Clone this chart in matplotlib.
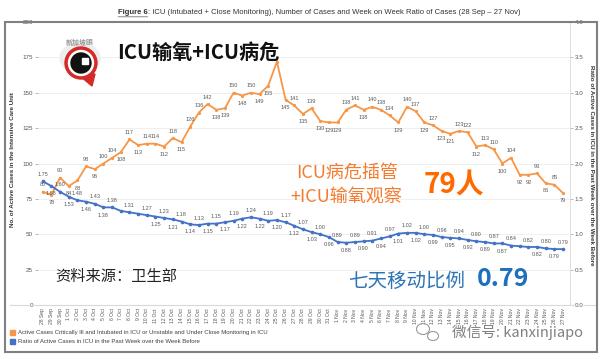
import matplotlib
matplotlib.use('Agg')
import matplotlib.pyplot as plt
from matplotlib.patches import Circle, Rectangle, Polygon, Ellipse
import numpy as np

# ---------------- data ----------------
x_labels = (["28 Sep", "29 Sep", "30 Sep"]
            + [f"{d} Oct" for d in range(1, 32)]
            + [f"{d} Nov" for d in range(1, 28)])

icu_cases = [80, 78, 90, 84, 88, 98, 96, 100, 104, 108,
             117, 113, 114, 114, 112, 118, 115, 126, 136, 142,
             138, 139, 150, 148, 150, 149, 155, 172, 145, 141,
             135, 139, 130, 129, 129, 138, 141, 138, 140, 138,
             134, 129, 140, 137, 129, 127, 123, 121, 123, 122,
             112, 113, 110, 100, 104, 92, 92, 93, 86, 85, 79]

ratio = [1.75, 1.68, 1.60, 1.53, 1.48, 1.46, 1.43, 1.38, 1.38, 1.33,
         1.31, 1.29, 1.27, 1.25, 1.23, 1.21, 1.18, 1.14, 1.13, 1.15,
         1.15, 1.17, 1.19, 1.22, 1.24, 1.22, 1.19, 1.20, 1.17, 1.12,
         1.07, 1.03, 1.00, 0.96, 0.89, 0.88, 0.89, 0.90, 0.91, 0.94,
         0.97, 1.01, 1.02, 1.02, 1.00, 0.99, 0.96, 0.95, 0.94, 0.92,
         0.90, 0.89, 0.87, 0.87, 0.84, 0.83, 0.82, 0.82, 0.80, 0.79, 0.79]

orange_unlabeled = {27}
blue_unlabeled = {9, 11, 55}

left_ticks = [0, 25, 50, 75, 100, 125, 150, 175, 200]
right_ticks = [0.0, 0.5, 1.0, 1.5, 2.0, 2.5, 3.0, 3.5, 4.0]

ORANGE = '#F79646'
BLUE = '#4472C4'
LABEL_C = '#595959'
CJK = ['Noto Sans CJK SC', 'DejaVu Sans']
LAT = ['Liberation Sans', 'DejaVu Sans']

W, H = 601, 359
fig = plt.figure(figsize=(W / 100, H / 100), dpi=100)
fig.patch.set_facecolor('white')


def fx(px):
    return px / W


def fy(py):
    return 1 - py / H


ax = fig.add_axes([fx(38), fy(305), fx(570) - fx(38), fy(22) - fy(305)])
x = np.arange(len(icu_cases))
ax.set_xlim(-0.55, len(icu_cases) - 0.2)
ax.set_ylim(0, 200)
ax2 = ax.twinx()
ax2.set_ylim(0, 4.0)

ax.set_yticks(left_ticks)
ax.set_yticklabels([str(t) for t in left_ticks], fontfamily=LAT)
ax.grid(axis='y', color='#ececec', lw=0.6)
ax.set_axisbelow(True)
ax2.set_yticks(right_ticks)
ax2.set_yticklabels([f"{t:.1f}" for t in right_ticks], fontfamily=LAT)

for a in (ax, ax2):
    for s in ('top', 'left', 'bottom', 'right'):
        a.spines[s].set_visible(False)
ax2.spines['right'].set_visible(True)
ax2.spines['right'].set_color('#d9d9d9')
ax2.spines['right'].set_linewidth(0.6)

ax.tick_params(axis='y', labelsize=4.5, length=2.5, width=0.5, color='#a0a0a0',
               labelcolor='#555555', pad=1)
ax2.tick_params(axis='y', labelsize=4.5, length=2.5, width=0.5, color='#a0a0a0',
                labelcolor='#555555', pad=1)
ax.set_xticks(x)
ax.set_xticklabels(x_labels, rotation=90, fontsize=3.6, color='#555555', fontfamily=LAT)
ax.tick_params(axis='x', length=0, pad=2.5)

ax.plot(x, icu_cases, color=ORANGE, lw=1.3, marker='o', ms=1.3, zorder=3)
ax2.plot(x, ratio, color=BLUE, lw=1.3, marker='o', ms=1.6, zorder=3)

n = len(icu_cases)
for i, v in enumerate(icu_cases):
    if i in orange_unlabeled:
        continue
    prev = icu_cases[i - 1] if i > 0 else icu_cases[i + 1]
    nxt = icu_cases[i + 1] if i < n - 1 else icu_cases[i - 1]
    above = v >= (prev + nxt) / 2
    ax.annotate(str(v), (i, v), xytext=(0, 5 if above else -5.5),
                textcoords='offset points', ha='center', va='center',
                fontsize=4.1, color=LABEL_C, zorder=4, fontfamily=LAT)

for i, r in enumerate(ratio):
    if i in blue_unlabeled:
        continue
    above = (i % 2 == 0)
    ax2.annotate(f"{r:.2f}", (i, r), xytext=(0, 5 if above else -5.5),
                 textcoords='offset points', ha='center', va='center',
                 fontsize=4.0, color=LABEL_C, zorder=4, fontfamily=LAT)

# ---------------- overlay (pixel coordinates) ----------------
ov = fig.add_axes([0, 0, 1, 1], zorder=10)
ov.set_xlim(0, W)
ov.set_ylim(H, 0)
ov.axis('off')
ov.patch.set_visible(False)

# frame box
ov.add_patch(Rectangle((5, 22), 592, 330, fill=False, ec='#808080', lw=1.5))
# bottom axis line
ov.plot([10, 595], [305, 305], color='#d9d9d9', lw=0.8)

# title
t_fig = ov.text(118, 13, "Figure 6", fontsize=5.5, color='#333333', fontweight='bold',
                ha='left', va='center', fontfamily=LAT)
ov.annotate(": ICU (Intubated + Close Monitoring), Number of Cases and Week on Week Ratio of Cases (28 Sep \u2013 27 Nov)",
            xy=(1.0, 0.5), xycoords=t_fig, ha='left', va='center',
            fontsize=5.5, color='#333333', fontfamily=LAT)
ov.annotate("", xy=(0, -0.05), xycoords=t_fig, xytext=(1, -0.05), textcoords=t_fig,
            arrowprops=dict(arrowstyle='-', color='#333333', lw=0.4,
                            shrinkA=0, shrinkB=0))

# axis titles
ov.text(13, 160, "No. of Active Cases in the Intensive Care Unit", rotation=90,
        fontsize=4.5, fontweight='bold', color='#333333', ha='center', va='center',
        fontfamily=LAT)
ov.text(592, 165, "Ratio of Active Cases in ICU in the Past Week over the Week Before",
        rotation=270, fontsize=4.5, fontweight='bold', color='#333333',
        ha='center', va='center', fontfamily=LAT)

# legend
ov.add_patch(Rectangle((10, 330), 5, 5, color=ORANGE))
ov.text(18, 332.5, "Active Cases Critically Ill and Intubated in ICU or Unstable and Under Close Monitoring in ICU",
        fontsize=4.3, color='#404040', ha='left', va='center', fontfamily=LAT)
ov.add_patch(Rectangle((10, 339), 5, 5, color=BLUE))
ov.text(18, 341.5, "Ratio of Active Cases in ICU in the Past Week over the Week Before",
        fontsize=4.3, color='#404040', ha='left', va='center', fontfamily=LAT)

# logo
ov.add_patch(Ellipse((80, 58), 40, 30, color='#eeeeee', zorder=1))
ov.add_patch(Polygon([[80, 76], [95, 74], [92, 86]], closed=True, color='#d42a2a', zorder=2))
ov.add_patch(Circle((81, 63), 16, color='#d42a2a', zorder=2))
ov.add_patch(Circle((81, 63), 12.5, color='white', zorder=3))
ov.add_patch(Circle((81, 63), 10, color='#111111', zorder=4))
ov.add_patch(Rectangle((82, 58), 6, 6, color='white', zorder=5))
ov.text(80, 42, "新加坡眼", fontsize=5, color='#999999', ha='center', va='center',
        fontfamily=CJK, fontweight='bold')

# annotations
ov.text(117, 52, "ICU输氧+ICU病危", fontsize=14.5, fontweight='bold', color='#111111',
        ha='left', va='center', fontfamily=CJK)
ov.text(296, 173, "ICU病危插管", fontsize=13, color='#F47C30', ha='left', va='center',
        fontfamily=CJK)
ov.text(290, 197, "+ICU输氧观察", fontsize=13, color='#F47C30', ha='left', va='center',
        fontfamily=CJK)
ov.text(424, 186, "79人", fontsize=20, fontweight='bold', color='#FF6A00', ha='left',
        va='center', fontfamily=CJK)
ov.text(55, 277, "资料来源：卫生部", fontsize=11, color='#222222', ha='left', va='center',
        fontfamily=CJK)
ov.text(348, 281, "七天移动比例", fontsize=14, color='#2E75B6', ha='left', va='center',
        fontfamily=CJK)
ov.text(477, 279, "0.79", fontsize=18, fontweight='bold', color='#1F6FBF', ha='left',
        va='center', fontfamily=CJK)

# watermark
ov.add_patch(Ellipse((423, 329), 13, 11, fill=False, ec='#999999', lw=0.8))
ov.add_patch(Ellipse((433, 336), 11, 9, fill=False, ec='#999999', lw=0.8))
ov.text(452, 332, "微信号: kanxinjiapo", fontsize=10.5, color='#808080', ha='left',
        va='center', fontfamily=CJK)

fig.savefig('out.png', dpi=100, facecolor='white')
